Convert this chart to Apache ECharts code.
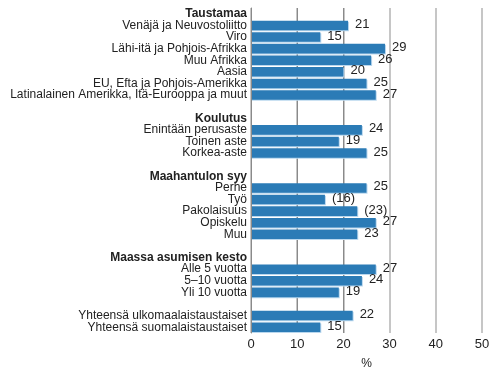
<!DOCTYPE html>
<html>
<head>
<meta charset="utf-8">
<script src="https://cdn.jsdelivr.net/npm/echarts@6/dist/echarts.min.js"></script>
<style>
  html, body { margin: 0; padding: 0; background: #fff; }
  #chart { width: 500px; height: 375px; }
</style>
</head>
<body>
<div id="chart"></div>
<script>
// rows top to bottom; headers and blank spacer rows carry no value
const categories = [
  'Taustamaa',
  'Venäjä ja Neuvostoliitto',
  'Viro',
  'Lähi-itä ja Pohjois-Afrikka',
  'Muu Afrikka',
  'Aasia',
  'EU, Efta ja Pohjois-Amerikka',
  'Latinalainen Amerikka, Itä-Eurooppa ja muut',
  '',
  'Koulutus',
  'Enintään perusaste',
  'Toinen aste',
  'Korkea-aste',
  '',
  'Maahantulon syy',
  'Perhe',
  'Työ',
  'Pakolaisuus',
  'Opiskelu',
  'Muu',
  '',
  'Maassa asumisen kesto',
  'Alle 5 vuotta',
  '5–10 vuotta',
  'Yli 10 vuotta',
  '',
  'Yhteensä ulkomaalaistaustaiset',
  'Yhteensä suomalaistaustaiset'
];

const values = [
  null, 21, 15, 29, 26, 20, 25, 27,
  null,
  null, 24, 19, 25,
  null,
  null, 25, 16, 23, 27, 23,
  null,
  null, 27, 24, 19,
  null,
  22, 15
];

// values shown in brackets (uncertain estimates)
const uncertain = ['Työ', 'Pakolaisuus'];

const groupHeaders = ['Taustamaa', 'Koulutus', 'Maahantulon syy', 'Maassa asumisen kesto'];

const xTicks = { min: 0, max: 50, interval: 10 };
// gridlines drawn darker (the ones crossing the bars)
const darkGrid = [10, 20];

const chart = echarts.init(document.getElementById('chart'));

const option = {
  animation: false,
  textStyle: { fontFamily: 'Liberation Sans, Arial, sans-serif' },
  grid: { left: 251, right: 18, top: 8, bottom: 32 },
  xAxis: {
    type: 'value',
    min: xTicks.min,
    max: xTicks.max,
    interval: xTicks.interval,
    name: '%',
    nameLocation: 'middle',
    nameGap: 25,
    nameTextStyle: { color: '#222', fontSize: 12 },
    axisLine: { show: false },
    axisTick: { show: false },
    axisLabel: { color: '#222', fontSize: 13, margin: 5 },
    splitLine: {
      show: true,
      lineStyle: { color: '#c6c6c6', width: 2 }
    }
  },
  yAxis: {
    type: 'category',
    inverse: true,
    data: categories,
    z: 3,
    axisLine: { show: true, lineStyle: { color: '#8a8a8a', width: 1 } },
    axisTick: { show: false },
    axisLabel: {
      color: '#222',
      fontSize: 12,
      margin: 4,
      interval: 0,
      formatter: (v) => (groupHeaders.includes(v) ? `{b|${v}}` : v),
      rich: {
        b: { fontWeight: 'bold', fontSize: 12, color: '#222' }
      }
    }
  },
  series: [
    {
      type: 'bar',
      data: values,
      barWidth: '82%',
      z: 2,
      itemStyle: {
        color: '#2b7bb6',
        shadowColor: '#b9d7ee',
        shadowOffsetX: 1,
        shadowOffsetY: 1
      },
      label: {
        show: true,
        position: 'right',
        distance: 7,
        offset: [0, -1],
        color: '#222',
        fontSize: 13,
        formatter: (p) => (uncertain.includes(p.name) ? `(${p.value})` : `${p.value}`)
      },
      markLine: {
        silent: true,
        z: 1,
        symbol: 'none',
        label: { show: false },
        lineStyle: { color: '#8a8a8a', width: 1, type: 'solid' },
        data: darkGrid.map((v) => ({ xAxis: v }))
      }
    }
  ]
};

chart.setOption(option);
</script>
</body>
</html>
